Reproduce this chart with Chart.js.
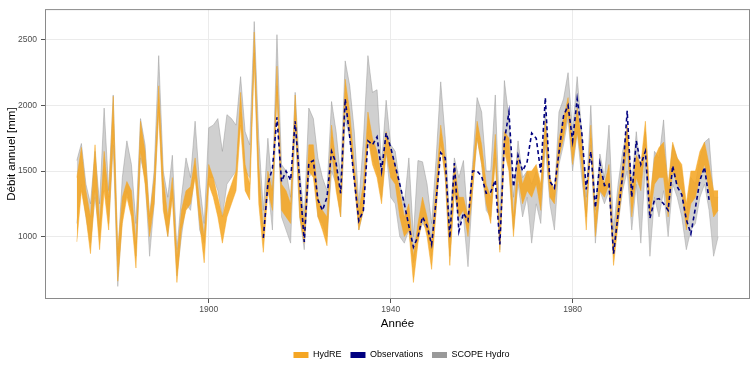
<!DOCTYPE html>
<html>
<head>
<meta charset="utf-8">
<script src="https://cdn.jsdelivr.net/npm/chart.js@4.4.1/dist/chart.umd.min.js"></script>
<style>
  html, body { margin: 0; padding: 0; background: #fff; }
  #wrap { width: 756px; height: 377px; }
</style>
</head>
<body>
<div id="wrap"><canvas id="debitChart" width="756" height="377"></canvas></div>
<script>
// --- Data (annual discharge, mm) ---
const firstYear = 1871;
const obsFirstYear = 1912;

// HydRE ensemble envelope (min / max of members)
const hydreLow = [
  960, 1350, 1150, 870, 1350, 900, 1350, 1050, 1750, 660,
  1100, 1300, 1150, 760, 1650, 1400, 1000, 1250, 1950, 1200,
  1000, 1300, 650, 1050, 1200, 1250, 1450, 1100, 800, 1400,
  1300, 1150, 950, 1150, 1250, 1350, 1850, 1350, 1280, 2350,
  1250, 880, 1350, 1200, 2100, 1200, 1150, 1100, 1900, 1150,
  950, 1500, 1450, 1150, 1050, 930, 1650, 1350, 1150, 2000,
  1800, 1400, 1050, 1200, 1750, 1550, 1450, 1250, 1650, 1450,
  1400, 1150, 1000, 1050, 650, 950, 1150, 1000, 750, 1200,
  1700, 1450, 780, 1350, 1150, 1200, 1000, 1350, 1750, 1550,
  1250, 1100, 1600, 880, 1650, 1500, 1000, 1450, 1250, 1350,
  1300, 1400, 1200, 1750, 1300, 1250, 1600, 1750, 1950, 1550,
  1800, 1550, 1050, 1750, 1000, 1350, 1300, 1400, 780, 1100,
  1400, 1700, 1150, 1450, 1350, 1700, 1150, 1400, 1450, 1450,
  1150, 1500, 1400, 1350, 1050, 1250, 1300, 1450, 1550, 1350,
  1150, 1200
];
const hydreHigh = [
  1450, 1680, 1350, 1150, 1700, 1100, 1650, 1300, 2070, 900,
  1300, 1420, 1350, 950, 1880, 1650, 1150, 1450, 2150, 1450,
  1150, 1450, 850, 1200, 1350, 1380, 1600, 1250, 1000, 1550,
  1450, 1300, 1150, 1300, 1400, 1500, 2100, 1550, 1400, 2560,
  1550, 1050, 1500, 1350, 2300, 1400, 1350, 1250, 2080, 1350,
  1100, 1700, 1700, 1300, 1200, 1150, 1850, 1550, 1300, 2200,
  1950, 1550, 1200, 1400, 1950, 1750, 1650, 1450, 1800, 1650,
  1550, 1350, 1150, 1250, 850, 1100, 1300, 1150, 950, 1400,
  1850, 1600, 1000, 1550, 1300, 1300, 1150, 1500, 1880, 1700,
  1400, 1300, 1780, 1000, 1800, 1750, 1150, 1600, 1400, 1500,
  1500, 1550, 1400, 1880, 1450, 1350, 1750, 1900, 2060, 1700,
  1980, 1730, 1200, 1850, 1150, 1500, 1400, 1550, 900, 1300,
  1550, 1850, 1350, 1620, 1550, 1880, 1300, 1600, 1680, 1720,
  1400, 1720, 1600, 1550, 1250, 1500, 1500, 1650, 1720, 1550,
  1350, 1350
];

// SCOPE Hydro ensemble envelope (min / max of members)
const scopeLow = [
  1100, 1400, 1150, 950, 1300, 1000, 1500, 1100, 1700, 620,
  1150, 1350, 1200, 850, 1600, 1450, 850, 1250, 2000, 1250,
  1000, 1350, 700, 1000, 1250, 1200, 1500, 1050, 950, 1450,
  1450, 1350, 1150, 1400, 1450, 1500, 1950, 1500, 1450, 2400,
  1350, 1000, 1400, 1050, 2150, 1150, 1050, 950, 1850, 1150,
  900, 1450, 1500, 1150, 1100, 1000, 1500, 1400, 1150, 1900,
  1750, 1450, 1050, 1200, 1800, 1600, 1500, 1300, 1650, 1300,
  1250, 1000, 950, 1050, 800, 1000, 1100, 1050, 850, 1200,
  1750, 1450, 850, 1350, 1100, 1150, 770, 1350, 1750, 1550,
  1200, 1150, 1600, 900, 1700, 1550, 1050, 1400, 1150, 1300,
  950, 1250, 1100, 1700, 1250, 1050, 1550, 1700, 1900, 1500,
  1800, 1450, 1150, 1700, 950, 1350, 1250, 1350, 850, 1100,
  1350, 1500, 1050, 1400, 950, 1550, 850, 1300, 1150, 1350,
  1000, 1400, 1300, 1150, 900, 1050, 1100, 1300, 1400, 1200,
  850, 1000
];
const scopeHigh = [
  1580, 1710, 1400, 1250, 1650, 1250, 1980, 1350, 2080, 850,
  1450, 1730, 1550, 1100, 1900, 1700, 1150, 1500, 2380, 1500,
  1300, 1620, 900, 1300, 1600, 1450, 1880, 1400, 1100, 1830,
  1850, 1900, 1650, 1930, 1900, 1850, 2220, 1800, 1700, 2640,
  1750, 1200, 1750, 1350, 2540, 1550, 1500, 1300, 2100, 1500,
  1150, 1980, 1900, 1600, 1450, 1350, 2030, 1800, 1450, 2340,
  2150, 1800, 1250, 1730, 2380, 2100, 2120, 1550, 2040, 1700,
  1650, 1400, 1250, 1600, 1000, 1580, 1570, 1400, 1100, 1600,
  2180, 1750, 1100, 1600, 1450, 1580, 1100, 1550, 2060, 1950,
  1500, 1500, 2080, 1100, 2190, 1900, 1300, 1730, 1450, 1500,
  1400, 1500, 1350, 1960, 1450, 1300, 1950, 2050, 2250, 1800,
  2220, 1800, 1300, 2000, 1200, 1630, 1450, 1850, 1050, 1400,
  1650, 1820, 1400, 1800, 1450, 1800, 1200, 1650, 1600, 1890,
  1350, 1700, 1600, 1500, 1150, 1450, 1400, 1600, 1720, 1750,
  1300, 1300
];

// Observations 1912-2010
const observations = [
  990, 1400, 1520, 1910, 1420, 1500, 1430, 1880, 1420,
  960, 1560, 1580, 1280, 1200, 1300, 1650, 1560, 1330, 2050,
  1760, 1430, 1120, 1200, 1730, 1700, 1760, 1500, 1790, 1680,
  1540, 1400, 1250, 1080, 920, 1000, 1150, 1080, 940, 1280,
  1640, 1600, 990, 1560, 1040, 1180, 1120, 1500, 1500, 1460,
  1330, 1340, 1430, 940, 1730, 1950, 1380, 1620, 1500, 1570,
  1790, 1750, 1490, 2060, 1420, 1370, 1640, 1920, 2000, 1730,
  2050, 1800, 1360, 1650, 1220, 1560, 1390, 1400, 870, 1170,
  1470, 1960, 1300, 1730, 1550, 1650, 1140, 1280, 1290, 1250,
  1200, 1540, 1380, 1320, 1130, 1020, 1220, 1430, 1530, 1280
];

const xTicks = [1900, 1940, 1980];
const yTicks = [1000, 1500, 2000, 2500];

const seriesNames = ['HydRE', 'Observations', 'SCOPE Hydro'];
const seriesColors = ['#F5A623', '#000080', '#999999'];

// --- Helpers ---
const toPoints = (values, startYear) => values.map((v, i) => ({ x: startYear + i, y: v }));

// panel border like ggplot theme_bw
const frame = {
  id: 'frame',
  afterDraw(chart) {
    const { ctx, chartArea: a } = chart;
    ctx.save();
    ctx.strokeStyle = '#8a8a8a';
    ctx.lineWidth = 1;
    ctx.strokeRect(a.left + 0.5, a.top + 0.5, a.right - a.left - 1, a.bottom - a.top - 1);
    ctx.restore();
  }
};

// centre the legend under the panel instead of the canvas
const legendUnderPanel = {
  id: 'legendUnderPanel',
  afterLayout(chart) {
    const lg = chart.legend;
    if (!lg) return;
    const shift = (chart.chartArea.left + chart.chartArea.right) / 2 - (lg.left + lg.right) / 2 + 4;
    lg.left += shift;
    lg.right += shift;
  }
};

const fontFamily = '"Liberation Sans", Arial, Helvetica, sans-serif';

new Chart(document.getElementById('debitChart'), {
  type: 'line',
  data: {
    datasets: [
      {
        label: 'Observations',
        data: toPoints(observations, obsFirstYear),
        borderColor: '#000080',
        borderWidth: 1.6,
        borderDash: [4, 3],
        pointRadius: 0,
        fill: false,
        order: 0
      },
      {
        label: 'HydRE min',
        data: toPoints(hydreLow, firstYear),
        borderColor: 'rgba(245,166,35,0.6)',
        borderWidth: 0.8,
        pointRadius: 0,
        fill: false,
        order: 1
      },
      {
        label: 'HydRE max',
        data: toPoints(hydreHigh, firstYear),
        borderColor: 'rgba(245,166,35,0.6)',
        backgroundColor: 'rgba(245,166,35,0.88)',
        borderWidth: 0.8,
        pointRadius: 0,
        fill: 1,
        order: 1
      },
      {
        label: 'SCOPE min',
        data: toPoints(scopeLow, firstYear),
        borderColor: 'rgba(160,160,160,0.6)',
        borderWidth: 0.8,
        pointRadius: 0,
        fill: false,
        order: 2
      },
      {
        label: 'SCOPE max',
        data: toPoints(scopeHigh, firstYear),
        borderColor: 'rgba(150,150,150,0.6)',
        backgroundColor: 'rgba(170,170,170,0.55)',
        borderWidth: 0.8,
        pointRadius: 0,
        fill: 3,
        order: 2
      }
    ]
  },
  options: {
    responsive: false,
    animation: false,
    devicePixelRatio: 1,
    layout: { padding: { left: 0, top: 6, right: 6, bottom: 7.5 } },
    elements: { line: { tension: 0 } },
    scales: {
      x: {
        type: 'linear',
        min: 1864,
        max: 2019,
        afterBuildTicks: (scale) => { scale.ticks = xTicks.map(v => ({ value: v })); },
        afterFit: (scale) => { scale.height = 42.5; },
        grid: { color: '#ebebeb', tickColor: '#555', tickLength: 4, drawTicks: true },
        border: { display: false },
        ticks: {
          color: '#4d4d4d',
          font: { family: fontFamily, size: 8.5 },
          padding: 2,
          maxRotation: 0,
          callback: (v) => String(v)
        },
        title: {
          display: true,
          text: 'Année',
          color: '#000',
          font: { family: fontFamily, size: 11.5 },
          padding: { top: 0, bottom: 11 }
        }
      },
      y: {
        min: 524,
        max: 2735,
        afterBuildTicks: (scale) => { scale.ticks = yTicks.map(v => ({ value: v })); },
        afterFit: (scale) => { scale.width = 45; },
        grid: { color: '#ebebeb', tickColor: '#555', tickLength: 4, drawTicks: true },
        border: { display: false },
        ticks: {
          color: '#4d4d4d',
          font: { family: fontFamily, size: 8.5 },
          padding: 4,
          callback: (v) => String(v)
        },
        title: {
          display: true,
          text: 'Débit annuel [mm]',
          color: '#000',
          font: { family: fontFamily, size: 11.5 },
          padding: { top: 5, bottom: 0 }
        }
      }
    },
    plugins: {
      tooltip: { enabled: false },
      legend: {
        position: 'bottom',
        labels: {
          boxWidth: 15,
          boxHeight: 6,
          padding: 9,
          color: '#000',
          font: { family: fontFamily, size: 9 },
          generateLabels: () => seriesNames.map((name, i) => ({
            text: name,
            fillStyle: seriesColors[i],
            strokeStyle: seriesColors[i],
            lineWidth: 0,
            hidden: false,
            datasetIndex: i
          }))
        }
      }
    }
  },
  plugins: [frame, legendUnderPanel]
});
</script>
</body>
</html>
